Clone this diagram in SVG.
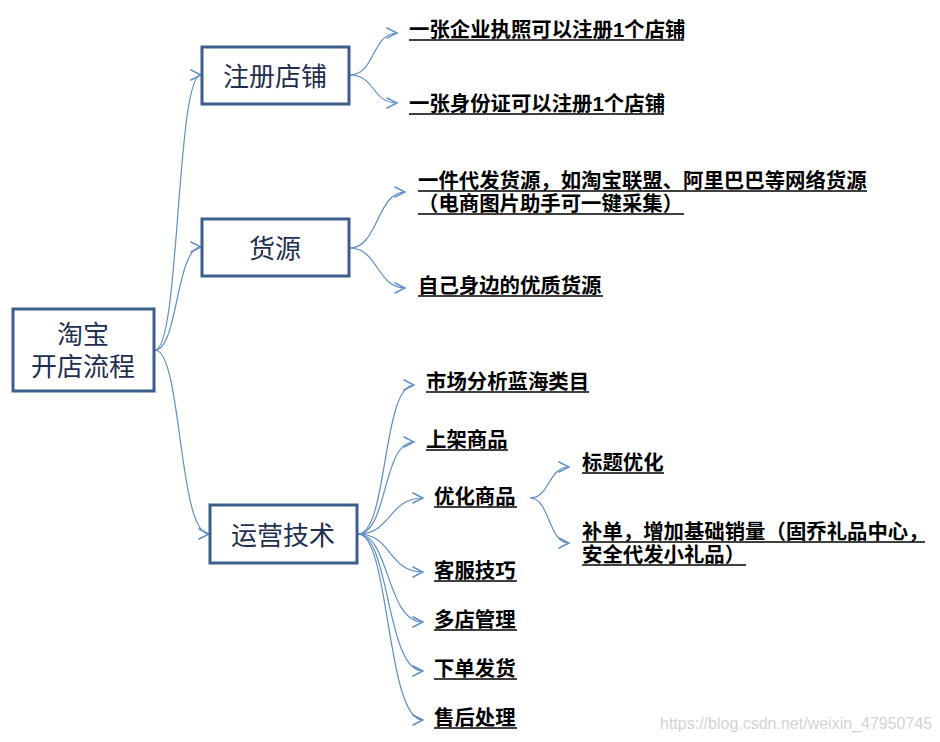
<svg xmlns="http://www.w3.org/2000/svg" width="940" height="742" viewBox="0 0 940 742">
<defs>
<style>
.box{fill:#fff;stroke:#3B5E8C;stroke-width:3}
.nl{font-family:"Liberation Sans","Noto Sans CJK SC",sans-serif;font-size:26px;fill:#1F2F4F;text-anchor:middle}
.lb{font-family:"Liberation Sans","Noto Sans CJK SC",sans-serif;font-size:20.4px;font-weight:bold;fill:#000}
.ul{stroke:#000;stroke-width:1.5}
.cn{fill:none;stroke:#5F8DC8;stroke-width:1.2;marker-end:url(#ah)}
.wm{font-family:"Liberation Sans",Arial,sans-serif;font-size:16px;fill:#d4d4d4}
</style>
<marker id="ah" markerUnits="userSpaceOnUse" markerWidth="14" markerHeight="14" refX="10" refY="5" orient="auto" viewBox="0 0 12 10">
<path d="M1,0.5 L10,5 L1,9.5" fill="none" stroke="#5F8DC8" stroke-width="1.2"/>
</marker>
</defs>
<rect width="940" height="742" fill="#fff"/>
<g id="connectors">
<path class="cn" d="M155,350 C180,350 176,75 201,75"/>
<path class="cn" d="M155,350 C178,350 176,247 201,247"/>
<path class="cn" d="M155,350 C182,350 178,534 209,534"/>
<path class="cn" d="M350,75 C375,75 372,33 397,33"/>
<path class="cn" d="M350,75 C375,75 372,103 397,103"/>
<path class="cn" d="M350,248 C378,248 377,192 405,192"/>
<path class="cn" d="M350,248 C378,248 377,288 405,288"/>
<path class="cn" d="M358,534 C388,534 382,385 414,385"/>
<path class="cn" d="M358,534 C388,534 382,442 414,442"/>
<path class="cn" d="M358,534 C392,534 388,498 423,498"/>
<path class="cn" d="M358,534 C392,534 388,572 423,572"/>
<path class="cn" d="M358,534 C390,534 386,622 423,622"/>
<path class="cn" d="M358,534 C390,534 386,671 423,671"/>
<path class="cn" d="M358,534 C390,534 386,720 423,720"/>
<path class="cn" d="M530,498 C550,498 548,467 569,467"/>
<path class="cn" d="M530,498 C550,498 548,543 569,543"/>
</g>
<g id="root">
<rect class="box" x="13" y="309" width="141" height="82"/>
<text class="nl"><tspan x="83" y="344">淘宝</tspan><tspan x="83" y="376">开店流程</tspan></text>
</g>
<g id="n-register">
<rect class="box" x="202" y="47" width="147" height="57"/>
<text class="nl" x="275" y="86">注册店铺</text>
</g>
<g id="n-source">
<rect class="box" x="202" y="219" width="147" height="57"/>
<text class="nl" x="275" y="258">货源</text>
</g>
<g id="n-ops">
<rect class="box" x="210" y="505" width="147" height="58"/>
<text class="nl" x="283" y="545">运营技术</text>
</g>
<g id="l-a1"><text class="lb" x="409" y="37">一张企业执照可以注册1个店铺</text><line class="ul" x1="409" y1="40" x2="684" y2="40"/></g>
<g id="l-a2"><text class="lb" x="409" y="111">一张身份证可以注册1个店铺</text><line class="ul" x1="409" y1="114" x2="664" y2="114"/></g>
<g id="l-b1"><text class="lb"><tspan x="418" y="188">一件代发货源，如淘宝联盟、阿里巴巴等网络货源</tspan><tspan x="418" y="211">（电商图片助手可一键采集）</tspan></text>
<line class="ul" x1="418" y1="191" x2="867" y2="191"/><line class="ul" x1="418" y1="214" x2="684" y2="214"/></g>
<g id="l-b2"><text class="lb" x="418" y="293">自己身边的优质货源</text><line class="ul" x1="418" y1="296" x2="603" y2="296"/></g>
<g id="l-c1"><text class="lb" x="426" y="389">市场分析蓝海类目</text><line class="ul" x1="426" y1="392" x2="589" y2="392"/></g>
<g id="l-c2"><text class="lb" x="426" y="447">上架商品</text><line class="ul" x1="426" y1="450" x2="508" y2="450"/></g>
<g id="l-c3"><text class="lb" x="434" y="504">优化商品</text><line class="ul" x1="434" y1="507" x2="517" y2="507"/></g>
<g id="l-c4"><text class="lb" x="434" y="578">客服技巧</text><line class="ul" x1="434" y1="581" x2="517" y2="581"/></g>
<g id="l-c5"><text class="lb" x="434" y="627">多店管理</text><line class="ul" x1="434" y1="630" x2="517" y2="630"/></g>
<g id="l-c6"><text class="lb" x="434" y="676">下单发货</text><line class="ul" x1="434" y1="679" x2="517" y2="679"/></g>
<g id="l-c7"><text class="lb" x="434" y="725">售后处理</text><line class="ul" x1="434" y1="728" x2="517" y2="728"/></g>
<g id="l-d1"><text class="lb" x="582" y="470">标题优化</text><line class="ul" x1="582" y1="473" x2="664" y2="473"/></g>
<g id="l-d2"><text class="lb"><tspan x="582" y="539">补单，增加基础销量（固乔礼品中心，</tspan><tspan x="582" y="562">安全代发小礼品）</tspan></text>
<line class="ul" x1="582" y1="542" x2="925" y2="542"/><line class="ul" x1="582" y1="565" x2="746" y2="565"/></g>
<text class="wm" x="660" y="729">https://blog.csdn.net/weixin_47950745</text>
</svg>
